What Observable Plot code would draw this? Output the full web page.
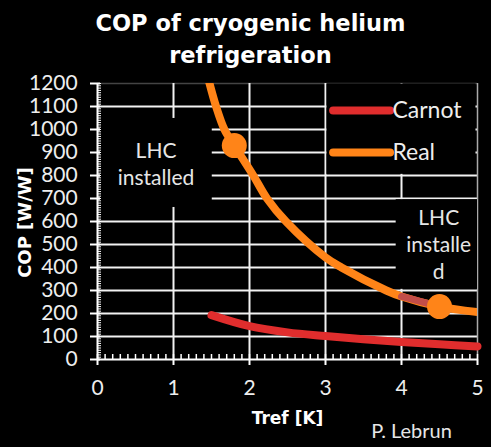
<!DOCTYPE html>
<html>
<head>
<meta charset="utf-8">
<script src="https://cdn.jsdelivr.net/npm/d3@7"></script>
<script src="https://cdn.jsdelivr.net/npm/@observablehq/plot@0.6"></script>
<style>
  html, body { margin: 0; padding: 0; background: #000; }
  #chart { width: 491px; height: 447px; }
</style>
</head>
<body>
<div id="chart"></div>
<script>
// ---- data ----
const carnotT   = [1.5, 2, 2.5, 3, 3.5, 4, 4.5, 5];
const carnotCOP = [193, 145, 118, 102, 88, 76, 66, 57];

const realT   = [1.47, 1.56, 1.67, 1.8, 2.05, 2.23, 2.48, 3.0, 3.21, 3.8, 4.0, 4.5, 5.0];
const realCOP = [1205, 1100, 1000, 930, 800, 700, 600, 444, 400, 300, 274, 230, 206];

const markerT   = [1.8, 4.5];
const markerCOP = [930, 230];

const xTicks = [0, 1, 2, 3, 4, 5];
const yTicks = d3.range(0, 1201, 100);
const xMinor = d3.range(0, 50.5, 1).map(d => d / 10);
const yMinor = d3.range(0, 1201, 10);

const seriesNames = ["Carnot", "Real"];
const seriesColors = ["#E02D2D", "#FF8418"];

// ---- tables ----
const carnot = carnotT.map((t, i) => ({t, cop: carnotCOP[i]}));
const real = realT.map((t, i) => ({t, cop: realCOP[i]}));
const realSeg = real.filter(d => d.t >= 4 && d.t <= 4.5);
const markers = markerT.map((t, i) => ({t, cop: markerCOP[i]}));

// legend layout (in data space)
const legend = seriesNames.map((name, i) => ({name, color: seriesColors[i], y: [1083, 900][i]}));

const font = "DejaVu Sans";
const tickFont = "Lato";
const plot = Plot.plot({
  width: 491,
  height: 447,
  marginLeft: 97,
  marginRight: 14,
  marginTop: 83,
  marginBottom: 88,
  style: {background: "#000", color: "#eee", fontFamily: font},
  x: {domain: [0, 5], axis: null},
  y: {domain: [0, 1200], axis: null},
  marks: [
    // grid
    Plot.ruleY(yTicks.filter(d => d > 0 && d < 1200), {stroke: "#f2f2f2", strokeWidth: 2}),
    Plot.ruleY([1200], {stroke: "#444", strokeWidth: 1.5}),
    Plot.ruleX(xTicks.filter(d => d > 0 && d < 5), {stroke: "#f2f2f2", strokeWidth: 2}),
    Plot.ruleX([5], {stroke: "#aaa", strokeWidth: 1.5}),
    // label boxes
    Plot.rect([{x1: 0.04, x2: 1.51, y1: 661, y2: 1048}], {x1: "x1", x2: "x2", y1: "y1", y2: "y2", fill: "#000"}),
    Plot.rect([{x1: 3.93, x2: 5.0, y1: 305, y2: 695}], {x1: "x1", x2: "x2", y1: "y1", y2: "y2", fill: "#000"}),
    Plot.rect([{x1: 3.02, x2: 4.98, y1: 805, y2: 1198}], {x1: "x1", x2: "x2", y1: "y1", y2: "y2", fill: "#000"}),
    // annotations
    Plot.text(["LHC\ninstalled"], {x: 0.77, y: 855, fontFamily: tickFont, fontSize: 21, fill: "#e6e6e6", lineHeight: 1.3, lineAnchor: "middle"}),
    Plot.text(["LHC\ninstalle\nd"], {x: 4.49, y: 505, fontFamily: tickFont, fontSize: 21, fill: "#e6e6e6", lineHeight: 1.3, lineAnchor: "middle"}),
    // axes: minor ticks
    Plot.tickX(xMinor, {x: d => d, stroke: "#fff", strokeWidth: 1.5, insetTop: 271}),
    Plot.tickY(yMinor, {y: d => d, stroke: "#fff", strokeWidth: 1, insetRight: 376}),
    // major ticks
    Plot.tickX(xTicks, {x: d => d, stroke: "#fff", strokeWidth: 2, insetTop: 270, dy: 6}),
    Plot.tickY(yTicks, {y: d => d, stroke: "#fff", strokeWidth: 2, insetRight: 370, dx: -7}),
    // tick labels (positioned just outside the frame)
    Plot.text(xTicks, {x: d => d, y: -126, text: d => String(d), lineAnchor: "middle", fontFamily: tickFont, fontSize: 21, fill: "#eee", clip: false}),
    Plot.text(yTicks, {y: d => d, x: -0.26, text: d => String(d), textAnchor: "end", lineAnchor: "middle", fontFamily: tickFont, fontSize: 21, fill: "#eee", clip: false}),
    Plot.ruleY([0], {stroke: "#fff", strokeWidth: 2}),
    Plot.ruleX([0], {stroke: "#fff", strokeWidth: 2}),
    // series
    Plot.line(carnot, {x: "t", y: "cop", stroke: seriesColors[0], strokeWidth: 8, strokeLinecap: "round", curve: "catmull-rom"}),
    Plot.line(real, {x: "t", y: "cop", stroke: seriesColors[1], strokeWidth: 8, strokeLinecap: "round", curve: "catmull-rom", clip: true}),
    Plot.line(realSeg, {x: "t", y: "cop", stroke: "#C24D49", strokeWidth: 7}),
    Plot.dot(markers, {x: "t", y: "cop", r: 12.5, fill: seriesColors[1]}),
    // legend
    Plot.link(legend, {x1: 3.1, x2: 3.85, y1: "y", y2: "y", stroke: "color", strokeWidth: 8, strokeLinecap: "round"}),
    Plot.text(legend, {x: 3.88, y: "y", text: "name", textAnchor: "start", lineAnchor: "middle", fontFamily: tickFont, fontSize: 23, fill: "#eee"}),
    // titles
    Plot.text(["COP of cryogenic helium"], {frameAnchor: "top-left", dx: 153, dy: -60, textAnchor: "middle", lineAnchor: "middle", fontSize: 22.5, fontWeight: "bold", fill: "#fff"}),
    Plot.text(["refrigeration"], {frameAnchor: "top-left", dx: 153, dy: -28, textAnchor: "middle", lineAnchor: "middle", fontSize: 22.5, fontWeight: "bold", fill: "#fff"}),
    Plot.text(["COP [W/W]"], {frameAnchor: "left", dx: -72, dy: 1, rotate: -90, textAnchor: "middle", lineAnchor: "middle", fontSize: 18, fontWeight: "bold", fill: "#fff"}),
    Plot.text(["Tref [K]"], {frameAnchor: "bottom", dy: 59, textAnchor: "middle", lineAnchor: "middle", fontSize: 17, fontWeight: "bold", fill: "#fff"}),
    Plot.text(["P. Lebrun"], {frameAnchor: "bottom-right", dx: -66, dy: 72, textAnchor: "middle", lineAnchor: "middle", fontFamily: tickFont, fontSize: 20, fill: "#e6e6e6"})
  ]
});
document.getElementById("chart").append(plot);
</script>
</body>
</html>
